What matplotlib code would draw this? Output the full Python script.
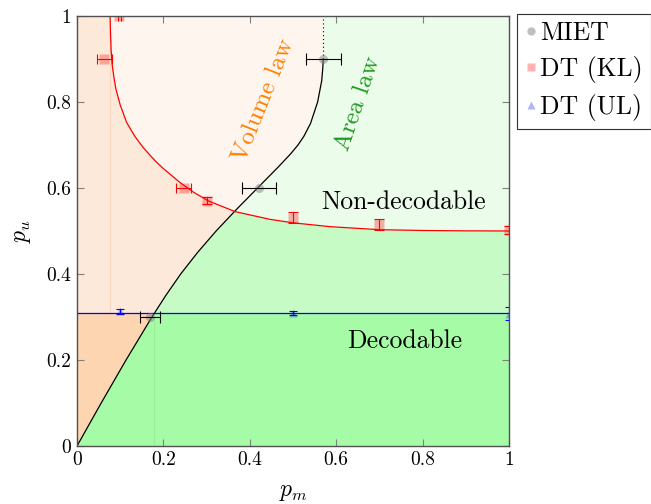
import numpy as np
import matplotlib
matplotlib.use("Agg")
import matplotlib.pyplot as plt
from matplotlib.patches import Polygon
from matplotlib.lines import Line2D

plt.rcParams["font.family"] = "serif"
plt.rcParams["font.serif"] = ["cmr10", "DejaVu Serif"]
plt.rcParams["mathtext.fontset"] = "cm"
plt.rcParams["axes.formatter.use_mathtext"] = True
plt.rcParams["axes.unicode_minus"] = False

# MIET phase boundary (volume law / area law)
miet_curve_pm = [0.0, 0.056, 0.1135, 0.1735, 0.2055, 0.24, 0.279, 0.322, 0.369,
                 0.418, 0.467, 0.495, 0.5115, 0.525, 0.5405, 0.557, 0.5665,
                 0.569, 0.57]
miet_curve_pu = [0.0, 0.1, 0.2, 0.3, 0.35, 0.4, 0.45, 0.5, 0.55,
                 0.6, 0.65, 0.68, 0.7, 0.72, 0.75, 0.8, 0.85,
                 0.88, 0.9]

# KL decodability boundary
kl_curve_pm = [0.0765, 0.0775, 0.079, 0.081, 0.085, 0.09, 0.1, 0.115, 0.134,
               0.154, 0.18, 0.2, 0.238, 0.27, 0.304, 0.366, 0.447, 0.5,
               0.586, 0.7, 0.8, 0.9, 1.0]
kl_curve_pu = [1.0, 0.96, 0.92, 0.89, 0.86, 0.83, 0.793, 0.752, 0.72,
               0.693, 0.664, 0.645, 0.613, 0.59, 0.57, 0.545, 0.527, 0.519,
               0.51, 0.503, 0.5012, 0.5003, 0.5]

# UL decodability threshold
ul_level = 0.31

# MIET data points
miet_pm = [0.169, 0.421, 0.57]
miet_pu = [0.3, 0.6, 0.9]
miet_pm_err = [0.024, 0.04, 0.04]

# DT (KL) data points
kl_pm = [0.098, 0.063, 0.247, 0.3, 0.5, 0.7, 1.0]
kl_pu = [1.0, 0.9, 0.6, 0.57, 0.531, 0.516, 0.502]
kl_pm_err = [0.004, 0.017, 0.017, 0.0, 0.0, 0.0, 0.0]
kl_pu_err = [0.0, 0.0, 0.0, 0.008, 0.012, 0.013, 0.01]

# DT (UL) data points
ul_pm = [0.1, 0.5, 1.0]
ul_pu = [0.313, 0.309, 0.308]
ul_pu_err = [0.005, 0.005, 0.016]

xtick_vals = [0, 0.2, 0.4, 0.6, 0.8, 1]
xtick_labels = ["0", "0.2", "0.4", "0.6", "0.8", "1"]
ytick_vals = [0, 0.2, 0.4, 0.6, 0.8, 1]
ytick_labels = ["0", "0.2", "0.4", "0.6", "0.8", "1"]

fig = plt.figure(figsize=(6.51, 5.04), dpi=100)
ax = fig.add_axes([0.1183, 0.1151, 0.6636, 0.8532])
ax.set_xlim(0, 1)
ax.set_ylim(0, 1)

mx = np.array(miet_curve_pm)
my = np.array(miet_curve_pu)
kx = np.array(kl_curve_pm)
ky = np.array(kl_curve_pu)

# regions on either side of the MIET boundary
left_pts = np.vstack([np.column_stack([mx, my]), [[mx[-1], 1.0], [0.0, 1.0]]])
right_pts = np.vstack([np.column_stack([mx, my]), [[mx[-1], 1.0], [1.0, 1.0], [1.0, 0.0]]])
left_patch = Polygon(left_pts, closed=True, transform=ax.transData)
right_patch = Polygon(right_pts, closed=True, transform=ax.transData)

band_x = np.r_[0.0, kx]
band_top = np.r_[1.0, ky]

shades = [
    (left_patch, ["#fef5ef", "#fde9d9", "#fdd6b1"]),
    (right_patch, ["#ebfceb", "#c6fbc6", "#a6fca6"]),
]
for patch, (c_hi, c_mid, c_lo) in shades:
    f1 = ax.fill_between(band_x, band_top, 1.0, color=c_hi, lw=0, zorder=0)
    f2 = ax.fill_between(band_x, ul_level, band_top, color=c_mid, lw=0, zorder=0)
    f3 = ax.fill_between([0, 1], 0, ul_level, color=c_lo, lw=0, zorder=0)
    for f in (f1, f2, f3):
        f.set_clip_path(patch)

# faint seams between shaded areas
ax.plot([kx[0], kx[0]], [ul_level, 1.0], color="#f7d9bf", lw=0.8, zorder=0.5)
ax.plot([0.178, 0.178], [0, ul_level], color="#96f096", lw=0.8, zorder=0.5)

# boundaries
ax.plot(mx, my, color="black", lw=0.9, zorder=2)
ax.plot([mx[-1], mx[-1]], [my[-1], 1.0], color="black", lw=0.8, ls=(0, (1, 2.5)), zorder=2)
ax.plot(kx, ky, color="red", lw=0.9, zorder=2)
ax.axhline(ul_level, color="blue", lw=0.9, zorder=2)

# data points
ax.errorbar(miet_pm, miet_pu, xerr=miet_pm_err, fmt="none", ecolor="black",
            elinewidth=0.8, capsize=4, capthick=0.8, zorder=4)
ax.plot(miet_pm, miet_pu, "o", ms=6.5, color="gray", alpha=0.5, mec="none", zorder=3)

kl_pm_a = np.array(kl_pm)
kl_pu_a = np.array(kl_pu)
kl_xe = np.array(kl_pm_err)
kl_ye = np.array(kl_pu_err)
hx = kl_xe > 0
vy = kl_ye > 0
ax.plot(kl_pm_a, kl_pu_a, "s", ms=6.5, color="red", alpha=0.3, mec="none", zorder=3)
ax.errorbar(kl_pm_a[hx], kl_pu_a[hx], xerr=kl_xe[hx], fmt="none", ecolor="red",
            elinewidth=0.8, capsize=3.5, capthick=0.8, zorder=4)
ax.errorbar(kl_pm_a[vy], kl_pu_a[vy], yerr=kl_ye[vy], fmt="none", ecolor="red",
            elinewidth=0.8, capsize=3.5, capthick=0.8, zorder=4)

ax.plot(ul_pm, ul_pu, "^", ms=5.5, color="blue", alpha=0.3, mec="none", zorder=3)
ax.errorbar(ul_pm, ul_pu, yerr=ul_pu_err, fmt="none", ecolor="blue",
            elinewidth=0.8, capsize=2.8, capthick=0.8, zorder=4)

# annotations
ax.text(0.757, 0.567, "Non-decodable", fontsize=18.5, ha="center", va="center", zorder=5)
ax.text(0.759, 0.245, "Decodable", fontsize=18.5, ha="center", va="center", zorder=5)
ax.text(0.432, 0.803, "Volume law", fontsize=18, color="#ff8000", rotation=68,
        ha="center", va="center", zorder=5)
ax.text(0.65, 0.795, "Area law", fontsize=18, color="#1f9a1f", rotation=71,
        ha="center", va="center", zorder=5)

# axes styling
ax.set_xticks(xtick_vals)
ax.set_xticklabels(xtick_labels)
ax.set_yticks(ytick_vals)
ax.set_yticklabels(ytick_labels)
ax.tick_params(direction="in", top=True, right=True, length=5, width=0.8,
               color="#808080", labelsize=14, pad=4)
for s in ax.spines.values():
    s.set_color("#505050")
    s.set_linewidth(1.0)
    s.set_zorder(6)
ax.set_xlabel("$p_m$", fontsize=17, labelpad=8)
ax.set_ylabel("$p_u$", fontsize=17, labelpad=10)

handles = [
    Line2D([], [], ls="none", marker="o", ms=6, color="gray", alpha=0.5, mec="none"),
    Line2D([], [], ls="none", marker="s", ms=6, color="red", alpha=0.3, mec="none"),
    Line2D([], [], ls="none", marker="^", ms=6, color="blue", alpha=0.3, mec="none"),
]
leg = ax.legend(handles, ["MIET", "DT (KL)", "DT (UL)"], loc="upper left",
                bbox_to_anchor=(1.019, 1.005), fontsize=18.5, frameon=True,
                fancybox=False, edgecolor="#303030", framealpha=1,
                handlelength=0.45, handletextpad=0.15, borderpad=0.3,
                labelspacing=0.42, borderaxespad=0)
leg.get_frame().set_linewidth(0.8)

fig.savefig("out.png", dpi=100)
